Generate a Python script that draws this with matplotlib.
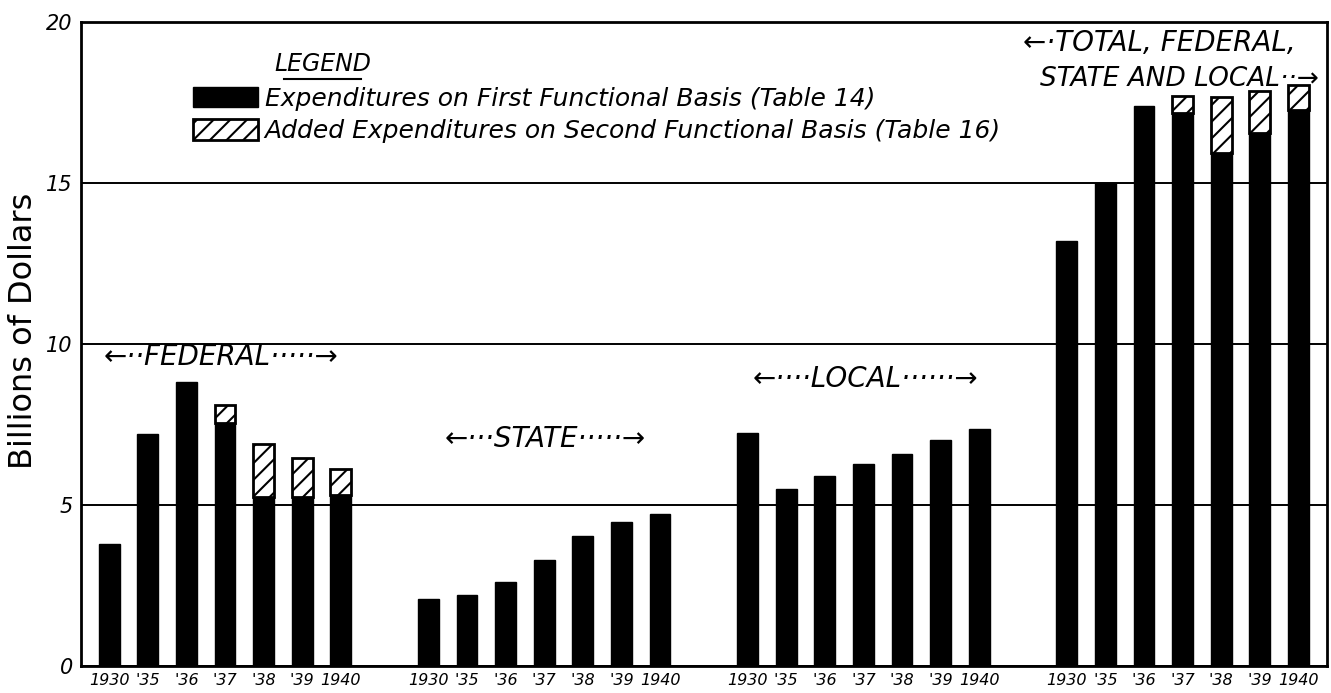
import numpy as np
import matplotlib
matplotlib.use("Agg")
import matplotlib.pyplot as plt
from matplotlib.patches import Patch

# Valores (miles de millones de dolares)
years = ['1930', "'35", "'36", "'37", "'38", "'39", '1940']
group_names = ['FEDERAL', 'STATE', 'LOCAL', 'TOTAL']

federal_first = [3.78, 7.21, 8.81, 7.55, 5.26, 5.26, 5.31]
federal_added = [0, 0, 0, 0.56, 1.63, 1.19, 0.81]
state_first = [2.08, 2.22, 2.60, 3.28, 4.05, 4.46, 4.72]
state_added = [0, 0, 0, 0, 0, 0, 0]
local_first = [7.23, 5.49, 5.89, 6.26, 6.59, 7.01, 7.35]
local_added = [0, 0, 0, 0, 0, 0, 0]
total_first = [13.2, 15.0, 17.39, 17.19, 15.93, 16.55, 17.27]
total_added = [0, 0, 0, 0.51, 1.75, 1.31, 0.77]

first = [federal_first, state_first, local_first, total_first]
added = [federal_added, state_added, local_added, total_added]

plt.rcParams['hatch.linewidth'] = 1.5
plt.rcParams['font.family'] = ['DejaVu Sans']

fig = plt.figure(figsize=(13.31, 6.93), dpi=100)
ax = fig.add_axes([0.061, 0.039, 0.936, 0.929])

group_step = 8.27
width = 0.54
xticks, xlabels = [], []
for g in range(4):
    x = np.arange(7) + g * group_step
    ax.bar(x, first[g], width=width, color='black', edgecolor='black', linewidth=1)
    extra = np.array(added[g])
    mask = extra > 0
    ax.bar(x[mask], extra[mask], bottom=np.array(first[g])[mask], width=width,
           facecolor='white', edgecolor='black', hatch='//', linewidth=2)
    xticks.extend(x)
    xlabels.extend(years)

ax.set_xlim(-0.725, 31.55)
ax.set_ylim(0, 20)
ax.set_yticks([0, 5, 10, 15, 20])
ax.set_yticklabels(['0', '5', '10', '15', '20'], fontsize=15, style='italic')
ax.set_xticks(xticks)
ax.set_xticklabels(xlabels, fontsize=11.5, style='italic')
ax.tick_params(length=0, axis='y', pad=6)
ax.tick_params(length=0, axis='x', pad=5)
ax.set_axisbelow(True)
ax.grid(axis='y', color='black', linewidth=1.4)
for s in ax.spines.values():
    s.set_linewidth(2)

ax.set_ylabel('Billions of Dollars', fontsize=23)
ax.yaxis.set_label_coords(-0.034, 0.52)

# Etiquetas de grupo
lab = dict(fontsize=20, style='italic', ha='center', va='center')
ax.text(2.9, 9.6, '←··FEDERAL·····→', **lab)
ax.text(11.3, 7.05, '←···STATE·····→', **lab)
ax.text(19.6, 8.9, '←····LOCAL······→', **lab)
ax.text(27.2, 19.35, '←·TOTAL, FEDERAL,', **lab)
ax.text(31.35, 18.25, 'STATE AND LOCAL··→', fontsize=19, style='italic',
        ha='right', va='center')

# Leyenda
ax.text(0.194, 0.935, 'LEGEND', transform=ax.transAxes, fontsize=17,
        style='italic', ha='center', va='center')
ax.plot([0.163, 0.225], [0.912, 0.912], transform=ax.transAxes,
        color='black', linewidth=1.5)
handles = [Patch(facecolor='black', edgecolor='black'),
           Patch(facecolor='white', edgecolor='black', hatch='//', linewidth=2)]
leg = ax.legend(handles,
                ['Expenditures on First Functional Basis (Table 14)',
                 'Added Expenditures on Second Functional Basis (Table 16)'],
                loc='upper left', bbox_to_anchor=(0.09, 0.9), frameon=False,
                borderpad=0, borderaxespad=0, handlelength=2.6, handleheight=0.9,
                handletextpad=0.25, labelspacing=0.35,
                prop={'size': 18, 'style': 'italic'})

fig.savefig('out.png', dpi=100)
